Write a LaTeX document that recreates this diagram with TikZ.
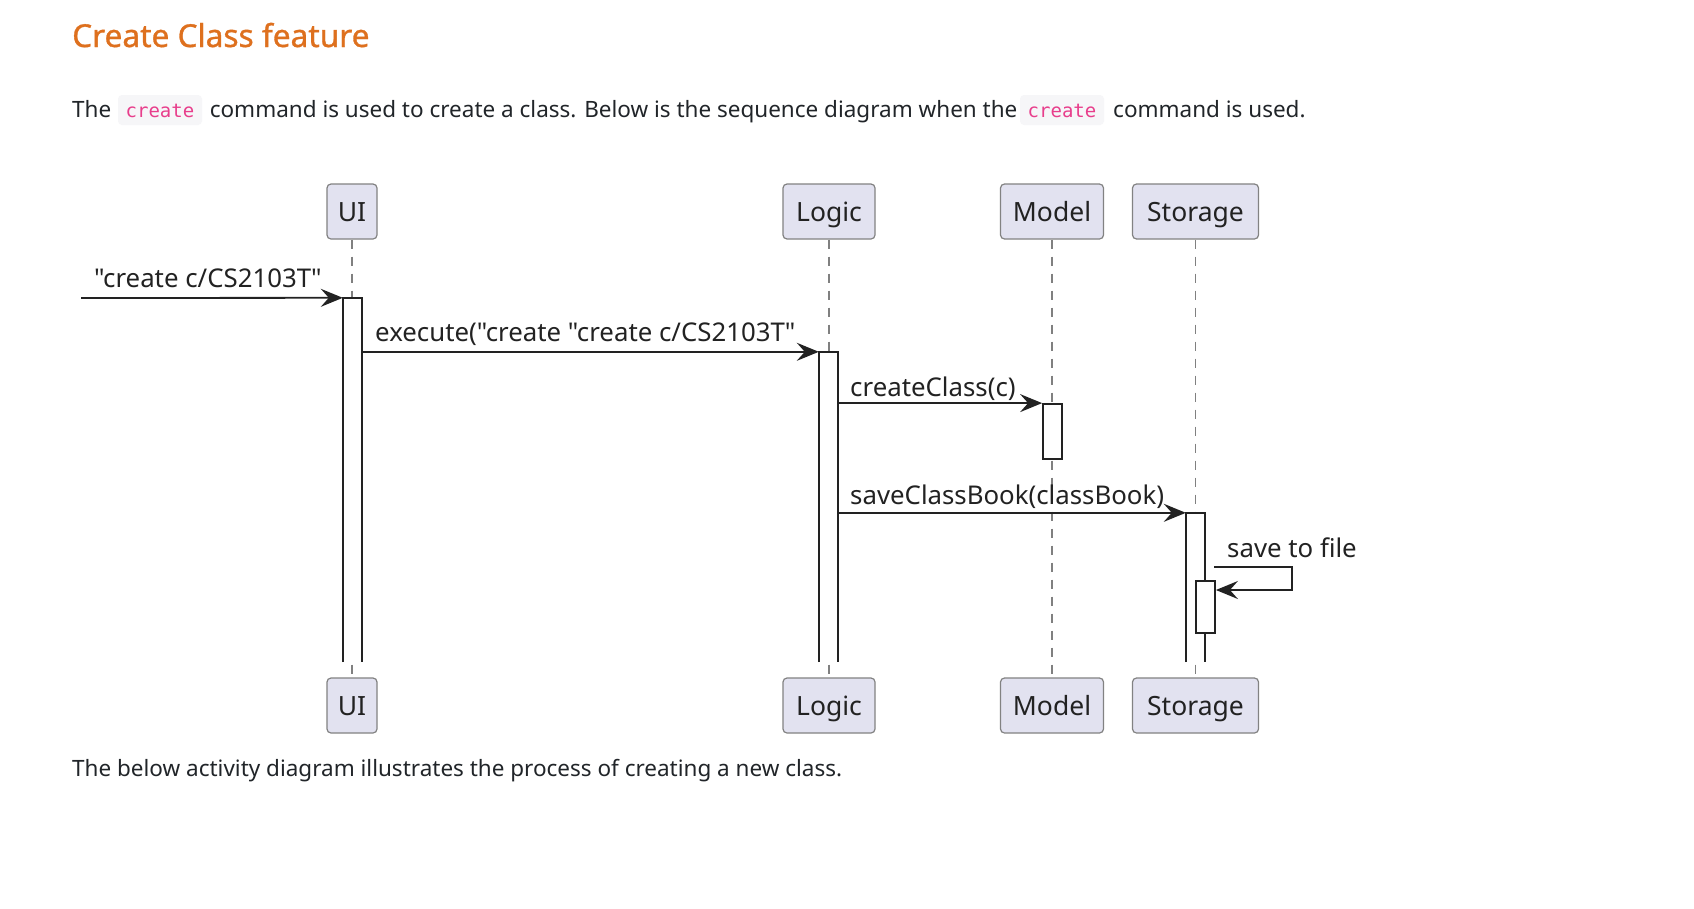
\documentclass[tikz,border=0pt]{standalone}
\usepackage{fontspec}
\setmainfont{Noto Sans}
\newfontfamily\diagfont{Noto Sans}
\newfontfamily\titlefont{Noto Sans}[FakeBold=1]
\newfontfamily\codefont{DejaVu Sans Mono}
\usetikzlibrary{arrows.meta}
\definecolor{titleorange}{RGB}{222,112,30}
\definecolor{codepink}{RGB}{232,62,140}
\definecolor{codebg}{RGB}{246,246,248}
\definecolor{partfill}{RGB}{226,226,240}
\definecolor{partdraw}{RGB}{130,130,130}
\definecolor{bodytext}{RGB}{33,37,41}
\definecolor{ink}{RGB}{34,34,34}
\begin{document}
\begin{tikzpicture}[x=1pt,y=-1pt,
 bodytxt/.style={inner sep=0pt, anchor=base west, font=\fontsize{22.5}{27}\selectfont, text=bodytext},
 codebox/.style={fill=codebg, rounded corners=4pt, minimum width=84pt, minimum height=30pt, inner sep=0pt, text height=14pt, text depth=0pt, font=\codefont\fontsize{19}{22}\selectfont, text=codepink},
 part/.style={draw=partdraw, fill=partfill, line width=1.2pt, rounded corners=4pt, minimum height=55pt, inner sep=0pt, text height=19pt, text depth=0pt, font=\diagfont\fontsize{26.5}{30}\selectfont, text=ink},
 lifeline/.style={draw=gray, line width=1.3pt, dash pattern=on 9.5pt off 7.5pt},
 act/.style={fill=white, minimum width=19pt, inner sep=0pt},
 actline/.style={draw=ink, line width=1.8pt},
 msg/.style={draw=ink, line width=1.8pt, -{Stealth[length=22pt,width=18pt,inset=8pt]}},
 msglabel/.style={inner sep=0pt, anchor=base west, font=\diagfont\fontsize{25.8}{30}\selectfont, text=ink},
]
\fill[white] (0,0) rectangle (1694,908);
\path[use as bounding box] (0,0) rectangle (1694,908);

% heading and text
\node[inner sep=0pt, anchor=base west, font=\titlefont\fontsize{31.6}{38}\selectfont, text=titleorange] (title) at (72,47) {Create Class feature};
\node[bodytxt] (p1a) at (72,117) {The};
\node[codebox] (code1) at (160,110) {create};
\node[bodytxt] (p1b) at (209.6,117) {command is used to create a class. Below is the sequence diagram when the};
\node[codebox] (code2) at (1062,110) {create};
\node[bodytxt] (p1c) at (1113,117) {command is used.};
\node[bodytxt] (p2) at (72,776) {The below activity diagram illustrates the process of creating a new class.};

% participants
\node[part, minimum width=50pt] (uitop) at (352,211.5) {UI};
\node[part, minimum width=92pt] (logictop) at (829,211.5) {Logic};
\node[part, minimum width=103pt] (modeltop) at (1052,211.5) {Model};
\node[part, minimum width=126pt] (sttop) at (1195.5,211.5) {Storage};
\node[part, minimum width=50pt] (uibot) at (352,705.5) {UI};
\node[part, minimum width=92pt] (logicbot) at (829,705.5) {Logic};
\node[part, minimum width=103pt] (modelbot) at (1052,705.5) {Model};
\node[part, minimum width=126pt] (stbot) at (1195.5,705.5) {Storage};

% lifelines
\draw[lifeline] (uitop.south) -- (uibot.north);
\draw[lifeline] (logictop.south) -- (logicbot.north);
\draw[lifeline] (modeltop.south) -- (modelbot.north);
\draw[lifeline] (sttop.south) -- (stbot.north);

% activations
\node[act, minimum height=364pt] (uiact) at (352.5,480) {};
\draw[actline] (uiact.south west) -- (uiact.north west) -- (uiact.north east) -- (uiact.south east);
\node[act, minimum height=310pt] (logicact) at (828.5,507) {};
\draw[actline] (logicact.south west) -- (logicact.north west) -- (logicact.north east) -- (logicact.south east);
\node[act, actline, minimum height=55pt] (modelact) at (1052.5,431.5) {};
\node[act, minimum height=149pt] (stact) at (1195.5,587.5) {};
\draw[actline] (stact.south west) -- (stact.north west) -- (stact.north east) -- (stact.south east);
\node[act, actline, minimum height=52pt] (stinner) at (1205.5,607) {};

% messages
\coordinate (found) at (81,298);
\draw[msg] (found) -- (uiact.north west);
\node[msglabel] (l1) at (94,287) {"create c/CS2103T"};
\draw[msg] (uiact.east |- logicact.north) -- (logicact.north west);
\node[msglabel] (l2) at (375,341) {execute("create "create c/CS2103T"};
\draw[msg] (logicact.east |- modelact.north) -- (modelact.north west);
\node[msglabel] (l3) at (850,396) {createClass(c)};
\draw[msg] (logicact.east |- stact.north) -- (stact.north west);
\node[msglabel] (l4) at (850,504) {saveClassBook(classBook)};
\coordinate (selfa) at (1214,567);
\coordinate (selfb) at (1292,567);
\coordinate (selfc) at (1292,590);
\draw[msg] (selfa) -- (selfb) -- (selfc) -- (stinner.east |- selfc);
\node[msglabel] (l5) at (1227,557) {save to file};
\end{tikzpicture}
\end{document}
